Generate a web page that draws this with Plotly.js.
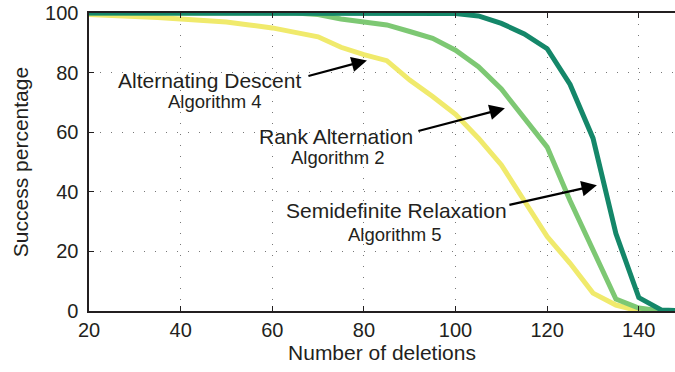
<!DOCTYPE html>
<html>
<head>
<meta charset="utf-8">
<script src="https://cdn.plot.ly/plotly-3.0.1.min.js"></script>
<style>html,body{margin:0;padding:0;background:#fff;}#chart{width:675px;height:372px;}</style>
</head>
<body>
<div id="chart"></div>
<script>
const deletions = [20,25,30,35,40,45,50,55,60,65,70,75,80,85,90,95,100,105,110,115,120,125,130,135,140,145,150];
const altDescent = [99.5,99,98.8,98.5,98,97.5,97,96,95,93.5,92,88.5,86,84,77.5,72,66,58,49,37,25,16,6,2,0,0,0];
const rankAlt = [100,100,100,100,100,100,100,100,100,100,99.5,98,97,96,93.8,91.5,87.5,82,74.5,65,55,37,20,4,1,0,0];
const sdRelax = [100,100,100,100,100,100,100,100,100,100,100,100,100,100,100,100,99.8,99,96.5,93,88,76,58,26,4.5,0.3,0];
const seriesNames = ["Alternating Descent", "Rank Alternation", "Semidefinite Relaxation"];
const algoLabels = ["Algorithm 4", "Algorithm 2", "Algorithm 5"];
const xTicks = [20,40,60,80,100,120,140];
const yTicks = [0,20,40,60,80,100];

const font = "Liberation Sans, Arial, Helvetica, sans-serif";
const txt = "#231f20";

const traces = [
  {x: deletions, y: altDescent, name: seriesNames[0], mode: "lines", line: {color: "rgb(240,234,108)", width: 5}},
  {x: deletions, y: rankAlt, name: seriesNames[1], mode: "lines", line: {color: "rgb(125,200,115)", width: 5}},
  {x: deletions, y: sdRelax, name: seriesNames[2], mode: "lines", line: {color: "rgb(20,135,105)", width: 5}}
];

function label(text, x, y, size) {
  return {x: x, y: y, xref: "x", yref: "y", text: text, showarrow: false,
          font: {family: font, size: size, color: txt}, xanchor: "center", yanchor: "middle"};
}
function arrow(x, y, ax, ay) {
  return {x: x, y: y, xref: "x", yref: "y", text: "", showarrow: true, ax: ax, ay: ay,
          arrowhead: 2, arrowsize: 1.4, arrowwidth: 2.2, arrowcolor: "#000", standoff: 0, startstandoff: 0};
}

const layout = {
  width: 675, height: 372,
  margin: {l: 89, r: 0, t: 13, b: 61},
  paper_bgcolor: "#fff", plot_bgcolor: "#fff",
  showlegend: false,
  font: {family: font, color: txt, size: 20},
  xaxis: {
    range: [20, 147.9], tickvals: xTicks, ticktext: xTicks.map(String),
    ticks: "inside", ticklen: 5, tickwidth: 1.2, tickcolor: txt,
    showline: true, linecolor: txt, linewidth: 1.6, mirror: "ticks",
    showgrid: true, gridcolor: "#777", gridwidth: 1, griddash: "1px,10px",
    zeroline: false, tickfont: {size: 20, family: font, color: txt},
    ticklabelstandoff: 0,
    title: {text: "Number of deletions", font: {size: 21, family: font, color: txt}, standoff: 6}
  },
  yaxis: {
    range: [0, 100], tickvals: yTicks, ticktext: yTicks.map(String),
    ticks: "inside", ticklen: 5, tickwidth: 1.2, tickcolor: txt,
    showline: true, linecolor: txt, linewidth: 1.6, mirror: false,
    showgrid: true, gridcolor: "#777", gridwidth: 1, griddash: "1px,10px",
    zeroline: false, tickfont: {size: 20, family: font, color: txt},
    ticklabelstandoff: 5,
    title: {text: "Success percentage", font: {size: 21, family: font, color: txt}, standoff: 10}
  },
  annotations: [
    label(seriesNames[0], 46.4, 77.4, 21),
    label(algoLabels[0], 47.5, 70.4, 18.5),
    arrow(80.66, 84.1, -60, 16),
    label(seriesNames[1], 73.8, 58.6, 21),
    label(algoLabels[1], 74.3, 51.6, 18.5),
    arrow(110.77, 68.0, -88, 23),
    label(seriesNames[2], 87.1, 33.8, 21),
    label(algoLabels[2], 86.8, 25.8, 18.5),
    arrow(130.85, 42.2, -89, 20)
  ]
};

Plotly.newPlot("chart", traces, layout, {staticPlot: true, displayModeBar: false});
</script>
</body>
</html>
